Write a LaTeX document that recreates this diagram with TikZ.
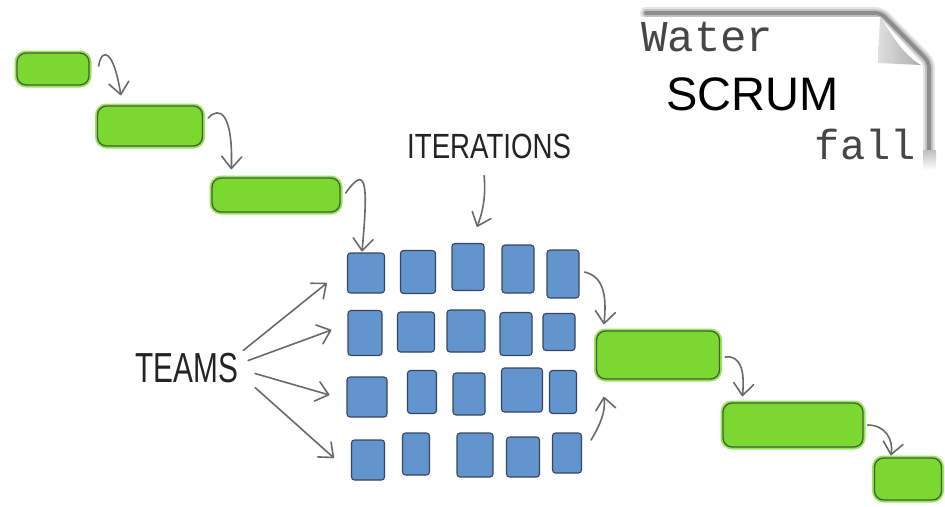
\documentclass[tikz,border=0pt]{standalone}
\usepackage{fontspec}
\newfontfamily\monof{Liberation Mono}
\newfontfamily\sansf{Liberation Sans}
\usetikzlibrary{arrows.meta,calc}
\definecolor{barfill}{RGB}{122,216,48}
\definecolor{barglow}{RGB}{150,230,90}
\definecolor{barline}{RGB}{70,90,60}
\definecolor{sqfill}{RGB}{98,148,206}
\definecolor{sqline}{RGB}{55,70,95}
\definecolor{arrowc}{RGB}{105,105,105}
\definecolor{inkc}{RGB}{35,35,35}
\definecolor{monoc}{RGB}{70,70,70}
\tikzset{arrtip/.tip={Straight Barb[length=12pt, width=20pt, round]}}
\begin{document}
\begin{tikzpicture}[x=1pt,y=-1pt,
  bar/.style={draw=barline, fill=barfill, line width=1.3pt, rounded corners=9pt, inner sep=0pt,
    preaction={draw=barglow, line width=5pt}},
  sq/.style={draw=sqline, fill=sqfill, line width=1.1pt, rounded corners=3pt, inner sep=0pt},
  arr/.style={draw=arrowc, line width=1.6pt, line cap=round, -arrtip},
  hand/.style={text=inkc, inner sep=0pt, font=\sansf},
  shad/.style={draw=black, line join=round, line cap=round, rounded corners=6pt}]
\useasboundingbox (0,0) rectangle (945,506);

% ---------- paper with curled corner ----------
\draw[shad, line width=12pt, opacity=0.10] (646,13) -- (881,13) -- (929,62) -- (929,152);
\draw[shad, line width=8pt, opacity=0.15] (646,13) -- (881,13) -- (929,62) -- (929,152);
\draw[shad, line width=4pt, opacity=0.28] (646,13) -- (881,13) -- (929,62) -- (929,152);
\shade[top color=gray!50, bottom color=white] (923,150) rectangle (936,170);
\fill[white] (640,17) -- (880,17) -- (922,64) -- (922,172) -- (640,172) -- cycle;
\shade[left color=gray!25, right color=gray!65]
  (880,16) .. controls (893,38) and (905,56) .. (921,65) -- (878,63) -- cycle;
\node[anchor=base west, inner sep=0pt, text=monoc, font=\monof\fontsize{44}{44}\selectfont] (water) at (641,51) {Water};
\node[anchor=base west, inner sep=0pt, text=black, font=\sansf\fontsize{47}{47}\selectfont] (scrum) at (666,110) {SCRUM};
\node[anchor=base east, inner sep=0pt, text=monoc, font=\monof\fontsize{42}{42}\selectfont] (fall) at (916,159) {fall};

% ---------- green phases ----------
\node[bar, minimum width=72, minimum height=32] (b1) at (53,69) {};
\node[bar, minimum width=105, minimum height=40] (b2) at (150,126) {};
\node[bar, minimum width=128, minimum height=34] (b3) at (276,195) {};
\node[bar, minimum width=123, minimum height=48] (b4) at (658,355) {};
\node[bar, minimum width=140, minimum height=44] (b5) at (793,425) {};
\node[bar, minimum width=67, minimum height=42] (b6) at (908,479) {};

% ---------- sprint grid ----------
\node[sq, minimum width=37, minimum height=40] (s11) at (366,273) {};
\node[sq, minimum width=35, minimum height=43] (s12) at (418,272) {};
\node[sq, minimum width=32, minimum height=47] (s13) at (468,267) {};
\node[sq, minimum width=32, minimum height=48] (s14) at (518,269) {};
\node[sq, minimum width=32, minimum height=48] (s15) at (563,274) {};
\node[sq, minimum width=34, minimum height=45] (s21) at (365,333) {};
\node[sq, minimum width=37, minimum height=40] (s22) at (416,332) {};
\node[sq, minimum width=38, minimum height=42] (s23) at (466,331) {};
\node[sq, minimum width=32, minimum height=43] (s24) at (516,334) {};
\node[sq, minimum width=32, minimum height=37] (s25) at (559,332) {};
\node[sq, minimum width=40, minimum height=40] (s31) at (367,397) {};
\node[sq, minimum width=29, minimum height=43] (s32) at (422,392) {};
\node[sq, minimum width=32, minimum height=42] (s33) at (469,394) {};
\node[sq, minimum width=41, minimum height=44] (s34) at (522,390) {};
\node[sq, minimum width=27, minimum height=43] (s35) at (563,392) {};
\node[sq, minimum width=33, minimum height=40] (s41) at (368,460) {};
\node[sq, minimum width=27, minimum height=42] (s42) at (416,454) {};
\node[sq, minimum width=36, minimum height=44] (s43) at (475,455) {};
\node[sq, minimum width=33, minimum height=40] (s44) at (523,457) {};
\node[sq, minimum width=29, minimum height=40] (s45) at (567,453) {};

% ---------- labels ----------
\node[hand, anchor=base west] (iter) at (407,158)
  {\scalebox{0.79}[1]{\fontsize{35}{35}\selectfont ITERATIONS}};
\node[hand, anchor=base west] (teams) at (135,382)
  {\scalebox{0.71}[1]{\fontsize{42}{42}\selectfont TEAMS}};

% ---------- connectors ----------
\draw[arr] ($(b1.east)+(9,-3)$) .. controls ($(b1.east)+(12,-22)$) and ($(b1.east)+(24,-20)$) .. ($(b2.north west)+(24,-10)$);
\draw[arr] ($(b2.east)+(5,-8)$) .. controls ($(b2.east)+(16,-20)$) and ($(b2.east)+(30,-14)$) .. ($(b3.north west)+(20,-8)$);
\draw[arr] ($(b3.east)+(5,-2)$) .. controls ($(b3.east)+(25,-30)$) and ($(b3.east)+(28,-15)$) .. ($(s11.north)+(-4,-1)$);
\draw[arr] ($(iter.south)+(-5,17)$) .. controls ($(iter.south)+(-3,40)$) and ($(iter.south)+(-7,55)$) .. ($(s13.north)+(9,-16)$);

\draw[arr] ($(teams.east)+(5,-17)$) -- ($(s11.west)+(-20,10)$);
\draw[arr] ($(teams.east)+(10,-7)$) -- ($(s21.west)+(-16,-3)$);
\draw[arr] ($(teams.east)+(17,6)$) -- ($(s31.west)+(-17,-2)$);
\draw[arr] ($(teams.east)+(17,20)$) -- ($(s41.west)+(-17,-2)$);

\draw[arr] ($(s15.east)+(5,-2)$) .. controls ($(s15.east)+(22,2)$) and ($(s15.east)+(28,18)$) .. ($(b4.north west)+(8,-6)$);
\draw[arr] ($(s45.east)+(9,-13)$) .. controls ($(s45.east)+(18,-28)$) and ($(s45.east)+(24,-42)$) .. ($(b4.south west)+(8,17)$);
\draw[arr] ($(b4.east)+(5,2)$) .. controls ($(b4.east)+(20,0)$) and ($(b4.east)+(25,15)$) .. ($(b5.north west)+(20,-6)$);
\draw[arr] ($(b5.east)+(4,0)$) .. controls ($(b5.east)+(22,0)$) and ($(b5.east)+(30,15)$) .. ($(b6.north west)+(17,-2)$);
\end{tikzpicture}
\end{document}
